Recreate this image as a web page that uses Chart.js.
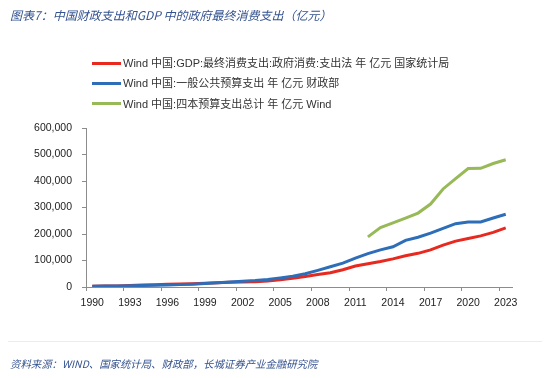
<!DOCTYPE html>
<html>
<head>
<meta charset="utf-8">
<script src="https://cdn.jsdelivr.net/npm/chart.js@4/dist/chart.umd.min.js"></script>
<style>
  html, body { margin: 0; padding: 0; background: #fff; }
  #wrap { position: relative; width: 550px; height: 378px; overflow: hidden; background: #fff; }
  #c { position: absolute; left: 0; top: 0; }
  .title { position: absolute; left: 10px; top: 6px; font: italic 12px "Noto Sans CJK SC", "Liberation Serif", serif; color: #34528f; white-space: nowrap; }
  .source { position: absolute; left: 10px; top: 356px; font: italic 10.4px "Noto Sans CJK SC", "Liberation Serif", serif; color: #34528f; white-space: nowrap; }
  .rule { position: absolute; left: 8px; top: 341px; width: 534px; height: 1px; background: #ececec; }
  .leg { position: absolute; left: 92px; height: 16px; font: 11px "Liberation Sans", "Noto Sans CJK SC", sans-serif; color: #333; white-space: nowrap; }
  .leg i { position: absolute; left: 0; top: 6.5px; width: 29px; height: 3px; }
  .leg span { position: absolute; left: 31px; top: 0; line-height: 16px; }
</style>
</head>
<body>
<div id="wrap">
  <canvas id="c" width="550" height="378"></canvas>
  <div class="title">图表7：中国财政支出和GDP 中的政府最终消费支出（亿元）</div>
  <div id="legend"></div>
  <div class="rule"></div>
  <div class="source">资料来源：WIND、国家统计局、财政部，长城证券产业金融研究院</div>
</div>
<script>
const years = [1990,1991,1992,1993,1994,1995,1996,1997,1998,1999,2000,2001,2002,2003,2004,2005,2006,2007,2008,2009,2010,2011,2012,2013,2014,2015,2016,2017,2018,2019,2020,2021,2022,2023];

const seriesNames = [
  "Wind 中国:GDP:最终消费支出:政府消费:支出法 年 亿元 国家统计局",
  "Wind 中国:一般公共预算支出 年 亿元 财政部",
  "Wind 中国:四本预算支出总计 年 亿元 Wind"
];

const govConsumption = [2640,3361,4203,5487,7398,8379,9964,11219,12359,13717,15661,17498,18760,20035,22334,27000,33000,40000,47000,54000,65000,79000,88000,96000,106000,118000,127000,140000,158000,173000,183000,193000,206000,223000];

const generalBudget = [3084,3387,3742,4642,5793,6824,7938,9234,10798,13188,15887,18903,22053,24650,28487,33930,40423,49781,62593,76300,89874,109248,125953,140212,151786,175878,187755,203085,220904,238858,245679,245673,260552,274574];

const fourBudgets = [null,null,null,null,null,null,null,null,null,null,null,null,null,null,null,null,null,null,null,null,null,null,189000,224000,242000,260000,279000,313000,370000,409000,447000,448000,466000,480000];

const yTicks = [0,100000,200000,300000,400000,500000,600000];

const colors = ["#e8291f", "#2e6db8", "#97b957"];
const legendTops = [55, 75, 95.5];

// HTML legend
const legendEl = document.getElementById('legend');
seriesNames.forEach((n, i) => {
  const d = document.createElement('div');
  d.className = 'leg';
  d.style.top = legendTops[i] + 'px';
  d.innerHTML = '<i style="background:' + colors[i] + '"></i><span>' + n + '</span>';
  legendEl.appendChild(d);
});

const tickFont = { family: '"Liberation Sans", Arial, sans-serif', size: 10.5 };

new Chart(document.getElementById('c'), {
  type: 'line',
  data: {
    labels: years.map(String),
    datasets: [
      { label: seriesNames[0], data: govConsumption, borderColor: colors[0], backgroundColor: colors[0], borderWidth: 3, pointRadius: 0, tension: 0, order: 3 },
      { label: seriesNames[1], data: generalBudget, borderColor: colors[1], backgroundColor: colors[1], borderWidth: 3, pointRadius: 0, tension: 0, order: 2 },
      { label: seriesNames[2], data: fourBudgets, borderColor: colors[2], backgroundColor: colors[2], borderWidth: 3, pointRadius: 0, tension: 0, order: 1, spanGaps: false }
    ]
  },
  options: {
    responsive: false,
    animation: false,
    devicePixelRatio: 1,
    layout: { padding: { top: 128, right: 38, bottom: 71, left: 0 } },
    plugins: { legend: { display: false }, tooltip: { enabled: false }, title: { display: false } },
    scales: {
      x: {
        type: 'category',
        offset: true,
        afterFit: s => { s.height = 20; },
        grid: {
          offset: true,
          drawOnChartArea: false,
          drawTicks: true,
          tickLength: 4,
          color: ctx => (ctx.index % 3 === 0 && ctx.index < years.length) ? '#8c8c8c' : 'rgba(0,0,0,0)'
        },
        border: { display: true, color: '#8c8c8c', width: 1 },
        ticks: {
          autoSkip: false,
          maxRotation: 0,
          minRotation: 0,
          padding: 6,
          color: '#222',
          font: tickFont,
          callback: (v, i) => (i % 3 === 0 ? years[i] : '')
        }
      },
      y: {
        min: 0,
        max: 600000,
        afterFit: s => { s.width = 86; },
        afterBuildTicks: s => { s.ticks = yTicks.map(v => ({ value: v })); },
        grid: { drawOnChartArea: false, drawTicks: true, tickLength: 4, color: '#8c8c8c' },
        border: { display: true, color: '#8c8c8c', width: 1 },
        ticks: {
          padding: 10,
          color: '#222',
          font: tickFont,
          callback: v => v.toLocaleString('en-US')
        }
      }
    }
  }
});
</script>
</body>
</html>
